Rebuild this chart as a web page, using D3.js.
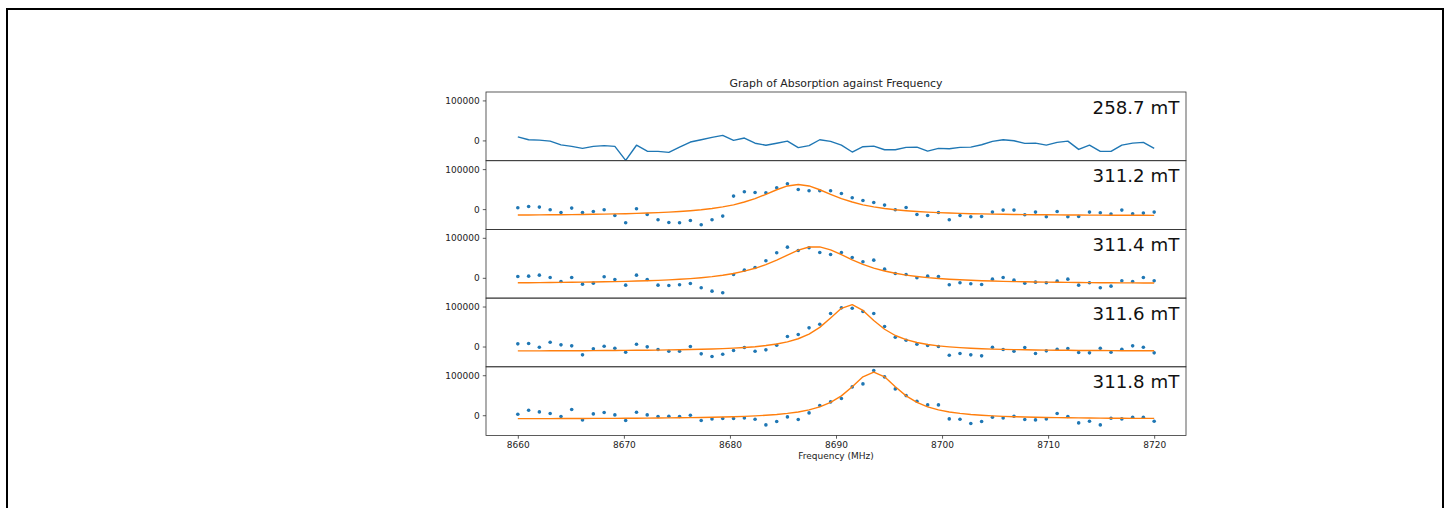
<!DOCTYPE html>
<html>
<head>
<meta charset="utf-8">
<script src="https://cdn.jsdelivr.net/npm/d3@7"></script>
<style>
  body { margin: 0; background: #fff; }
  svg { display: block; }
  text { font-family: "DejaVu Sans", sans-serif; }
</style>
</head>
<body>
<svg id="chart" width="1451" height="508"></svg>
<script>
const freq = [8660.00, 8661.02, 8662.03, 8663.05, 8664.07, 8665.08, 8666.10, 8667.12, 8668.14, 8669.15,
    8670.17, 8671.19, 8672.20, 8673.22, 8674.24, 8675.25, 8676.27, 8677.29, 8678.31, 8679.32,
    8680.34, 8681.36, 8682.37, 8683.39, 8684.41, 8685.42, 8686.44, 8687.46, 8688.47, 8689.49,
    8690.51, 8691.53, 8692.54, 8693.56, 8694.58, 8695.59, 8696.61, 8697.63, 8698.64, 8699.66,
    8700.68, 8701.69, 8702.71, 8703.73, 8704.75, 8705.76, 8706.78, 8707.80, 8708.81, 8709.83,
    8710.85, 8711.86, 8712.88, 8713.90, 8714.92, 8715.93, 8716.95, 8717.97, 8718.98, 8720.00];

const fields = ["258.7 mT", "311.2 mT", "311.4 mT", "311.6 mT", "311.8 mT"];

// 258.7 mT has no resonance, drawn as a plain line
const abs2587 = [9000, 1700, 800, -1700, -11000, -15000, -20000, -15000, -13000, -15000,
    -50000, -12000, -27000, -27500, -30000, -17000, -4000, 1700, 7500, 12500,
    0, 6000, -7000, -12000, -7000, -1700, -18000, -13000, 1700, -2500,
    -11700, -29000, -15800, -14200, -23300, -23300, -17500, -16700, -26700, -20000,
    -20800, -17500, -16700, -10800, -2500, 1700, -800, -7500, -6700, -11700,
    -5000, -1700, -22500, -11700, -27500, -27500, -11700, -6700, -5000, -20000];

const abs3112 = [3300, 6700, 5000, -1700, -8300, 2500, -8300, -5800, -1700, -15800,
    -34000, 800, -13300, -26700, -33300, -34000, -28300, -39000, -26700, -17500,
    32500, 43300, 41700, 40800, 53300, 63300, 49000, 45800, 45800, 45800,
    39000, 28300, 21700, 16700, 10000, -1700, 4200, -13300, -15800, -8300,
    -26700, -15800, -19200, -18300, -7500, -2500, -2500, -14200, -7500, -19200,
    -5800, -19200, -18300, -7500, -9200, -12500, -2500, -11700, -10000, -7500];
const fit3112 = [-14800, -14600, -14400, -14200, -13900, -13700, -13300, -12900, -12500, -12000,
    -11400, -10700, -9800, -8800, -7600, -6000, -4100, -1700, 1400, 5500,
    10700, 17700, 26200, 36900, 48400, 57900, 61700, 57900, 48400, 36900,
    26200, 17700, 10700, 5500, 1400, -1700, -4100, -6000, -7600, -8800,
    -9800, -10700, -11400, -12000, -12500, -12900, -13300, -13700, -13900, -14200,
    -14400, -14600, -14800, -14900, -15100, -15200, -15300, -15400, -15500, -15600];

const abs3114 = [3300, 4200, 6700, 800, -9200, 800, -15800, -13300, 2500, -4200,
    -18300, 6700, -4200, -18300, -19200, -17500, -14200, -25000, -33300, -37500,
    8300, 19200, 25800, 42500, 62500, 76700, 68300, 75000, 63300, 58300,
    63300, 50800, 40000, 44200, 21700, 10800, 8300, 0, 4200, 3300,
    -17500, -12500, -15000, -16700, -3300, 800, -5800, -13300, -10800, -12500,
    -8300, -3300, -18300, -12500, -25000, -20800, -7500, -9200, 800, -7500];
const fit3114 = [-12400, -12200, -12000, -11700, -11500, -11200, -10800, -10400, -10000, -9400,
    -8800, -8100, -7300, -6300, -5100, -3600, -1900, 300, 3100, 6500,
    10900, 16600, 23800, 33000, 44400, 57000, 69200, 77100, 77400, 70000,
    57900, 45100, 33700, 24400, 17000, 11300, 6700, 3300, 500, -1700,
    -3500, -5000, -6200, -7200, -8100, -8800, -9400, -9900, -10400, -10800,
    -11100, -11400, -11700, -12000, -12200, -12400, -12600, -12700, -12900, -13000];

const abs3116 = [6700, 7500, -1700, 10800, 4200, 1700, -20800, -5800, 800, -4200,
    -14200, 5800, -800, -7500, -11700, -11700, 0, -18300, -25000, -19200,
    -10000, -2500, -11700, -8300, 3300, 25000, 30000, 46700, 55800, 82500,
    96700, 95800, 87500, 82500, 50000, 23300, 15800, 5800, 2500, 0,
    -21700, -17500, -20800, -23300, -1700, -7500, -11700, -2500, -17500, -10800,
    -6700, -5000, -15000, -15800, -4200, -14200, -6700, 1700, -1700, -15800];
const fit3116 = [-10900, -10900, -10800, -10700, -10600, -10500, -10400, -10200, -10100, -9900,
    -9700, -9500, -9200, -8900, -8500, -8100, -7600, -6900, -6200, -5200,
    -4000, -2400, -400, 2400, 6200, 11500, 19400, 31000, 47900, 71200,
    95500, 104800, 90300, 65000, 43200, 27500, 17200, 10000, 5200, 1600,
    -900, -2800, -4300, -5500, -6400, -7100, -7700, -8200, -8600, -9000,
    -9300, -9500, -9800, -10000, -10100, -10300, -10400, -10500, -10600, -10700];

const abs3118 = [2500, 12500, 8300, 4200, -3300, 14200, -11700, 3300, 6700, 800,
    -13300, 7500, 800, -3300, -2500, -3300, 0, -13300, -9200, -8300,
    -8300, -6700, -10000, -24200, -15800, -4200, -10800, 5800, 24200, 33300,
    41700, 70800, 78300, 111700, 95800, 65800, 49000, 35000, 25800, 25800,
    -9200, -10000, -20800, -15800, -5000, -6700, -2500, -10800, -11700, -9200,
    4200, -3300, -19200, -15000, -24200, -7500, -9200, -5000, -5000, -15000];
const fit3118 = [-8600, -8500, -8400, -8400, -8300, -8200, -8100, -8000, -7900, -7800,
    -7600, -7400, -7200, -7000, -6700, -6400, -6100, -5600, -5100, -4500,
    -3700, -2800, -1600, -100, 1900, 4600, 8200, 13400, 20800, 31900,
    48300, 71000, 95900, 108000, 95900, 71000, 48300, 31900, 20800, 13400,
    8200, 4600, 1900, -100, -1600, -2800, -3700, -4500, -5100, -5600,
    -6100, -6400, -6700, -7000, -7200, -7400, -7600, -7800, -7900, -8000];

const xTicks = [8660, 8670, 8680, 8690, 8700, 8710, 8720];
const yTicks = [0, 100000];

const panels = [
    {label: fields[0], values: abs2587, fit: null},
    {label: fields[1], values: abs3112, fit: fit3112},
    {label: fields[2], values: abs3114, fit: fit3114},
    {label: fields[3], values: abs3116, fit: fit3116},
    {label: fields[4], values: abs3118, fit: fit3118}
];

const svg = d3.select("#chart");
const plotLeft = 486, plotRight = 1186, plotTop = 92, panelH = 68.7;
const blue = "#1f77b4", orange = "#ff7f0e";

// frame round the whole picture
svg.append("rect")
    .attr("x", 7).attr("y", 9)
    .attr("width", 1436).attr("height", 600)
    .attr("fill", "none").attr("stroke", "#000").attr("stroke-width", 2);

const x = d3.scaleLinear().domain([8657, 8723]).range([plotLeft, plotRight]);
const y = d3.scaleLinear().domain([-50700, 121050]).range([panelH, 0]);

panels.forEach((p, i) => {
    const g = svg.append("g")
        .attr("transform", `translate(0,${plotTop + i * panelH})`);

    g.append("clipPath").attr("id", `clip${i}`)
        .append("rect")
        .attr("x", plotLeft).attr("y", 0)
        .attr("width", plotRight - plotLeft).attr("height", panelH);

    const yAxis = g.append("g")
        .attr("transform", `translate(${plotLeft},0)`)
        .call(d3.axisLeft(y).tickValues(yTicks).tickFormat(d3.format("d"))
            .tickSize(3.2).tickPadding(3.2));
    yAxis.select(".domain").remove();
    yAxis.selectAll("line").attr("stroke", "#333").attr("stroke-width", 0.8);
    yAxis.selectAll("text").attr("font-size", 9).attr("fill", "#222")
        .style("font-family", "DejaVu Sans");

    const plot = g.append("g").attr("clip-path", `url(#clip${i})`);

    if (p.fit === null) {
        plot.append("path")
            .datum(p.values)
            .attr("fill", "none")
            .attr("stroke", blue)
            .attr("stroke-width", 1.4)
            .attr("stroke-linejoin", "round")
            .attr("d", d3.line().x((d, j) => x(freq[j])).y(d => y(d)));
    } else {
        plot.selectAll("circle")
            .data(p.values)
            .join("circle")
            .attr("cx", (d, j) => x(freq[j]))
            .attr("cy", d => y(d))
            .attr("r", 1.8)
            .attr("fill", blue);

        plot.append("path")
            .datum(p.fit)
            .attr("fill", "none")
            .attr("stroke", orange)
            .attr("stroke-width", 1.4)
            .attr("stroke-linejoin", "round")
            .attr("d", d3.line().x((d, j) => x(freq[j])).y(d => y(d)));
    }

    g.append("text")
        .attr("x", plotRight - 6.7)
        .attr("y", 21.5)
        .attr("text-anchor", "end")
        .attr("font-size", 18.2)
        .attr("fill", "#111")
        .text(p.label);

    g.append("rect")
        .attr("x", plotLeft).attr("y", 0)
        .attr("width", plotRight - plotLeft).attr("height", panelH)
        .attr("fill", "none").attr("stroke", "#333").attr("stroke-width", 0.8);
});

const plotBottom = plotTop + panels.length * panelH;
const xAxis = svg.append("g")
    .attr("transform", `translate(0,${plotBottom})`)
    .call(d3.axisBottom(x).tickValues(xTicks).tickFormat(d3.format("d"))
        .tickSize(3.2).tickPadding(3.2));
xAxis.select(".domain").remove();
xAxis.selectAll("line").attr("stroke", "#333").attr("stroke-width", 0.8);
xAxis.selectAll("text").attr("font-size", 9).attr("fill", "#222")
    .style("font-family", "DejaVu Sans");

svg.append("text")
    .attr("x", (plotLeft + plotRight) / 2)
    .attr("y", 459)
    .attr("text-anchor", "middle")
    .attr("font-size", 9)
    .attr("fill", "#222")
    .text("Frequency (MHz)");

svg.append("text")
    .attr("x", (plotLeft + plotRight) / 2)
    .attr("y", 87.3)
    .attr("text-anchor", "middle")
    .attr("font-size", 10.9)
    .attr("fill", "#222")
    .text("Graph of Absorption against Frequency");
</script>
</body>
</html>
